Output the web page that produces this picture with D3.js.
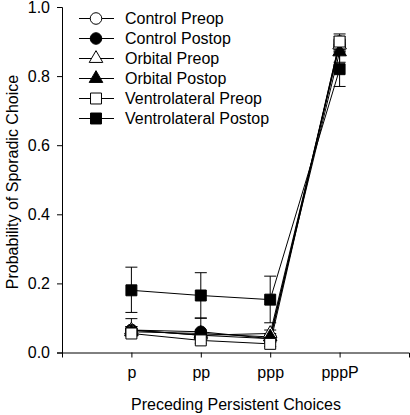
<!DOCTYPE html>
<html><head><meta charset="utf-8">
<script src="https://cdn.jsdelivr.net/npm/d3@7"></script>
<style>body{margin:0;background:#fff}svg{display:block}text{font-family:"Liberation Sans",Arial,sans-serif}</style>
</head><body><svg id="c" width="410" height="415"></svg>
<script>
const categories = ["p", "pp", "ppp", "pppP"];
const seriesNames = ["Control Preop", "Control Postop", "Orbital Preop", "Orbital Postop", "Ventrolateral Preop", "Ventrolateral Postop"];
const controlPreop = [0.065, 0.050, 0.040, 0.900];
const controlPostop = [0.065, 0.060, 0.040, 0.890];
const orbitalPreop = [0.065, 0.050, 0.055, 0.890];
const orbitalPostop = [0.060, 0.055, 0.045, 0.870];
const ventroPreop = [0.055, 0.035, 0.025, 0.900];
const ventroPostop = [0.180, 0.165, 0.153, 0.820];
// upper / lower error extents
const controlPreopErrUp = [0.010, 0.010, 0.010, 0.015];
const controlPreopErrLo = [0.010, 0.010, 0.010, 0.015];
const controlPostopErrUp = [0.010, 0.040, 0.010, 0.015];
const controlPostopErrLo = [0.010, 0.010, 0.010, 0.015];
const orbitalPreopErrUp = [0.033, 0.010, 0.010, 0.020];
const orbitalPreopErrLo = [0.010, 0.010, 0.010, 0.020];
const orbitalPostopErrUp = [0.010, 0.010, 0.010, 0.020];
const orbitalPostopErrLo = [0.010, 0.010, 0.010, 0.030];
const ventroPreopErrUp = [0.008, 0.008, 0.008, 0.022];
const ventroPreopErrLo = [0.008, 0.008, 0.008, 0.022];
const ventroPostopErrUp = [0.067, 0.066, 0.068, 0.050];
const ventroPostopErrLo = [0.064, 0.066, 0.067, 0.050];
const yTicks = [0.0, 0.2, 0.4, 0.6, 0.8, 1.0];

const series = [
  {name: seriesNames[0], v: controlPreop, eu: controlPreopErrUp, el: controlPreopErrLo, shape: "circle", fill: "#fff"},
  {name: seriesNames[1], v: controlPostop, eu: controlPostopErrUp, el: controlPostopErrLo, shape: "circle", fill: "#000"},
  {name: seriesNames[2], v: orbitalPreop, eu: orbitalPreopErrUp, el: orbitalPreopErrLo, shape: "triangle", fill: "#fff"},
  {name: seriesNames[3], v: orbitalPostop, eu: orbitalPostopErrUp, el: orbitalPostopErrLo, shape: "triangle", fill: "#000"},
  {name: seriesNames[4], v: ventroPreop, eu: ventroPreopErrUp, el: ventroPreopErrLo, shape: "square", fill: "#fff"},
  {name: seriesNames[5], v: ventroPostop, eu: ventroPostopErrUp, el: ventroPostopErrLo, shape: "square", fill: "#000"}
];

const svg = d3.select("#c");
const x0 = 62, x1 = 409, yTop = 7, yBot = 352.5;
const x = d3.scaleLinear().domain([0, 5]).range([x0, x1]);
const y = d3.scaleLinear().domain([0, 1]).range([yBot, yTop]);

const sym = {
  circle: d3.symbol().type(d3.symbolCircle).size(105),
  triangle: d3.symbol().type(d3.symbolTriangle).size(80),
  square: d3.symbol().type(d3.symbolSquare).size(120)
};

// axes
const xAxis = d3.axisBottom(x).tickValues([1,2,3,4]).tickFormat(d => categories[d-1]).tickSizeOuter(0).tickSize(5).tickPadding(9);
const gx = svg.append("g").attr("transform", `translate(0,${yBot})`).call(xAxis);
gx.selectAll("text").attr("font-size", 16).attr("fill", "#000");
gx.selectAll("line,path").attr("stroke", "#000");
const yAxis = d3.axisLeft(y).tickValues(yTicks).tickFormat(d3.format(".1f")).tickSizeOuter(0).tickSize(5).tickPadding(7);
const gy = svg.append("g").attr("transform", `translate(${x0},0)`).call(yAxis);
gy.selectAll("text").attr("font-size", 16).attr("fill", "#000");
gy.selectAll("line,path").attr("stroke", "#000");

svg.append("text").attr("x", 236).attr("y", 410).attr("text-anchor", "middle").attr("font-size", 16).text("Preceding Persistent Choices");
svg.append("text").attr("transform", `translate(18,182) rotate(-90)`).attr("text-anchor", "middle").attr("font-size", 16).text("Probability of Sporadic Choice");

const plot = svg.append("g");
const line = d3.line().x((d,i) => x(i+1)).y(d => y(d));
series.forEach(s => {
  plot.append("path").attr("d", line(s.v)).attr("fill", "none").attr("stroke", "#000").attr("stroke-width", 1);
});
series.forEach(s => {
  s.v.forEach((v, i) => {
    const cx = x(i+1), hi = y(v + s.eu[i]), lo = y(v - s.el[i]);
    plot.append("line").attr("x1", cx).attr("x2", cx).attr("y1", hi).attr("y2", lo).attr("stroke", "#000");
    [hi, lo].forEach(yy => plot.append("line").attr("x1", cx-6).attr("x2", cx+6).attr("y1", yy).attr("y2", yy).attr("stroke", "#000"));
  });
});
series.forEach(s => {
  s.v.forEach((v, i) => {
    plot.append("path").attr("d", sym[s.shape]()).attr("transform", `translate(${x(i+1)},${y(v)})`)
      .attr("fill", s.fill).attr("stroke", "#000").attr("stroke-width", 1);
  });
});

// legend
const lg = svg.append("g");
series.forEach((s, i) => {
  const yy = 18.5 + i * 20;
  lg.append("line").attr("x1", 79).attr("x2", 114).attr("y1", yy).attr("y2", yy).attr("stroke", "#000");
  lg.append("path").attr("d", sym[s.shape]()).attr("transform", `translate(96,${yy})`).attr("fill", s.fill).attr("stroke", "#000");
  lg.append("text").attr("x", 125).attr("y", yy + 5.5).attr("font-size", 16).text(s.name);
});
</script></body></html>
